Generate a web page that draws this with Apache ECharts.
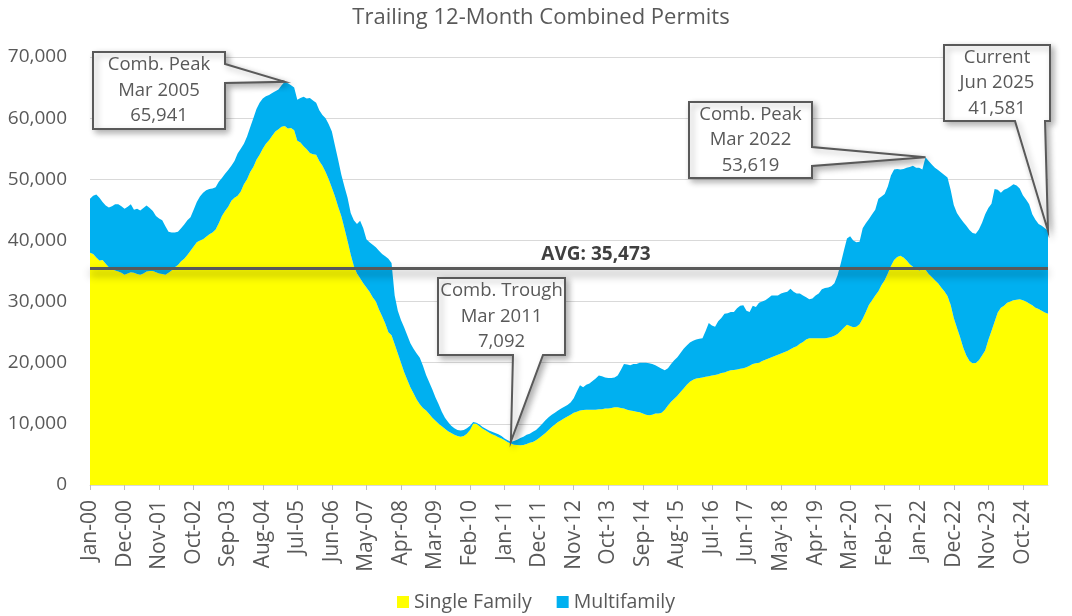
<!DOCTYPE html>
<html>
<head>
<meta charset="utf-8">
<title>Trailing 12-Month Combined Permits</title>
<script src="https://cdn.jsdelivr.net/npm/echarts@6/dist/echarts.min.js"></script>
<style>
  html, body { margin: 0; padding: 0; background: #fff; }
  #chart { width: 1072px; height: 616px; }
</style>
</head>
<body>
<div id="chart"></div>
<script>
// trailing 12-month permits, Jan-2000 .. Jun-2025, one row per year
const singleFamily = [
  38000, 37800, 37200, 36700, 36800, 36200, 35600, 35300, 35100, 34900, 34700, 34400,
  34600, 34800, 34700, 34500, 34400, 34600, 34900, 35000, 35000, 34800, 34600, 34500,
  34400, 34700, 35100, 35600, 36000, 36600, 37000, 37600, 38300, 39000, 39700, 40000,
  40200, 40600, 41000, 41300, 41800, 42800, 44000, 44800, 45500, 46500, 47000, 47300,
  48000, 49200, 50000, 51200, 52000, 53200, 54000, 55000, 55800, 56400, 57100, 57800,
  58200, 58600, 58700, 58300, 58400, 58000, 56300, 56000, 55400, 54900, 54300, 54100,
  54000, 53000, 52200, 51200, 50000, 48600, 47200, 45500, 44000, 42000, 39900, 37700,
  35800, 34600, 33800, 33000, 32300, 31600, 30700, 30000, 28700, 27600, 26400, 25000,
  24500, 23000, 21500, 20000, 18500, 17200, 16000, 15000, 14000, 13200, 12600, 12200,
  11600, 11000, 10500, 10000, 9600, 9200, 8800, 8500, 8200, 8000, 7900, 8000,
  8400, 9000, 10000, 10000, 9600, 9200, 8900, 8600, 8300, 8100, 7800, 7600,
  7300, 7000, 6800, 6600, 6550, 6500, 6550, 6700, 6900, 7050, 7300, 7700,
  8100, 8500, 9000, 9500, 9900, 10300, 10600, 10900, 11200, 11500, 11800, 12000,
  12200, 12250, 12300, 12300, 12300, 12300, 12400, 12400, 12500, 12500, 12600, 12700,
  12700, 12600, 12500, 12300, 12200, 12100, 12000, 11900, 11700, 11500, 11400, 11500,
  11700, 11700, 11800, 12300, 13000, 13600, 14100, 14600, 15200, 15800, 16400, 16900,
  17200, 17400, 17500, 17600, 17700, 17800, 17900, 18000, 18100, 18300, 18400, 18600,
  18750, 18800, 18900, 19000, 19100, 19250, 19500, 19800, 19900, 20000, 20300, 20500,
  20700, 20900, 21100, 21300, 21500, 21700, 21900, 22200, 22500, 22700, 23100, 23400,
  23800, 24000, 24000, 24000, 24000, 24000, 24000, 24100, 24200, 24400, 24700, 25200,
  25700, 26200, 26000, 25800, 25900, 26300, 27200, 28300, 29500, 30200, 31000, 31700,
  32700, 33500, 34600, 35800, 36800, 37300, 37500, 37200, 36700, 36100, 35700, 35400,
  35100, 35300, 35200, 34500, 34000, 33500, 33000, 32300, 31700, 30900, 29500, 27300,
  25700, 24200, 22500, 21200, 20300, 19900, 19950, 20400, 21200, 22000, 23700, 25200,
  26700, 28200, 29000, 29300, 29800, 30000, 30200, 30300, 30400, 30200, 30000, 29700,
  29400, 29000, 28800, 28500, 28200, 28000
];

const multifamily = [
  8800, 9500, 10300, 10300, 9500, 9500, 9800, 10300, 10800, 11000, 10900, 10800,
  10900, 11100, 10300, 10700, 10500, 10700, 10800, 10300, 9800, 9200, 9000, 8800,
  7900, 6700, 6200, 5700, 5400, 5400, 5600, 5700, 5500, 6000, 6600, 7200,
  7600, 7600, 7400, 7200, 6900, 6800, 6200, 6100, 6000, 5700, 6000, 6900,
  7000, 6600, 7000, 7300, 8000, 8300, 8500, 8200, 7800, 7400, 7000, 6600,
  6500, 6800, 7241, 7400, 7000, 7000, 6700, 7300, 8100, 8300, 9000, 8800,
  8500, 8300, 8300, 8800, 9000, 9200, 8300, 7700, 6800, 6800, 7100, 6800,
  7500, 8100, 9400, 9000, 7900, 8100, 8600, 8900, 9600, 10200, 11000, 12000,
  11800, 8000, 7000, 7000, 7300, 7300, 7200, 7300, 7500, 7600, 6900, 5800,
  5200, 4600, 3800, 3200, 2400, 1800, 1500, 1200, 1100, 1000, 1000, 1000,
  900, 700, 300, 200, 300, 300, 300, 300, 400, 400, 500, 400,
  300, 300, 292, 600, 850, 1200, 1350, 1500, 1500, 1650, 1700, 1800,
  1900, 2100, 2100, 2000, 1900, 1900, 1900, 1900, 1900, 2000, 2400, 3300,
  4100, 3750, 4100, 4300, 4700, 5100, 5500, 5400, 5100, 5000, 4900, 4900,
  5200, 6200, 7300, 7400, 7400, 7700, 7800, 8100, 8300, 8500, 8500, 8300,
  7900, 7600, 7200, 6450, 6100, 6200, 6300, 6300, 6400, 6500, 6400, 6400,
  6400, 6400, 6400, 6400, 7500, 8700, 8200, 7900, 8700, 9000, 9600, 9500,
  9550, 9500, 10000, 10300, 10300, 9250, 8800, 9500, 9200, 9800, 9700, 9700,
  9900, 10100, 9900, 9700, 9800, 9800, 9700, 9900, 9100, 8600, 8200, 7600,
  6900, 6400, 6500, 7000, 7300, 8000, 8200, 8200, 8300, 8600, 9600, 11000,
  12600, 14100, 14700, 14200, 13800, 13500, 14800, 14500, 14000, 14100, 14000, 15100,
  14500, 14100, 14200, 14800, 14800, 14400, 14100, 14500, 15200, 15900, 16500, 16500,
  16800, 16300, 18419, 18500, 18400, 18400, 18500, 18800, 19000, 19400, 18800, 18500,
  18800, 19500, 20500, 21200, 21400, 21300, 21150, 21400, 21700, 22300, 21600, 20800,
  21700, 20100, 18800, 19000, 18700, 18800, 19000, 18700, 18100, 17200, 16700, 16200,
  14900, 14400, 13900, 13900, 13800, 13581
];

const monthNames = ['Jan', 'Feb', 'Mar', 'Apr', 'May', 'Jun', 'Jul', 'Aug', 'Sep', 'Oct', 'Nov', 'Dec'];
const categories = [];
for (let y = 2000; y <= 2025; y++) {
  for (let m = 0; m < 12; m++) {
    if (y === 2025 && m > 5) break;
    categories.push(monthNames[m] + '-' + String(y).slice(2));
  }
}

const avgValue = 35473;

// callout boxes: index of the month pointed at, text, box [x, y, w, h], wedge side + span
const callouts = [
  { idx: 62, lines: ['Comb. Peak', 'Mar 2005', '65,941'], box: [93, 52, 132, 77], wedge: ['right', 64, 83] },
  { idx: 134, lines: ['Comb. Trough', 'Mar 2011', '7,092'], box: [438, 278, 127, 77], wedge: ['bottom', 513, 543] },
  { idx: 266, lines: ['Comb. Peak', 'Mar 2022', '53,619'], box: [689, 102, 123, 76], wedge: ['right', 147, 166] },
  { idx: 305, lines: ['Current', 'Jun 2025', '41,581'], box: [944, 45, 106, 76], wedge: ['bottom', 1015, 1045] }
];

const FONT = '"Open Sans", "Noto Sans", sans-serif';
const GREY = '#595959';

const chart = echarts.init(document.getElementById('chart'));

chart.setOption({
  animation: false,
  backgroundColor: '#fff',
  title: {
    text: 'Trailing 12-Month Combined Permits',
    left: 536,
    textAlign: 'center',
    top: 2,
    textStyle: { fontFamily: FONT, fontSize: 22, fontWeight: 'normal', color: GREY }
  },
  legend: {
    top: 587,
    left: 'center',
    icon: 'rect',
    itemWidth: 12,
    itemHeight: 12,
    itemGap: 25,
    textStyle: { fontFamily: FONT, fontSize: 19.5, color: GREY },
    data: ['Single Family', 'Multifamily']
  },
  grid: { left: 90, right: 24, top: 57, bottom: 131 },
  xAxis: {
    type: 'category',
    data: categories,
    boundaryGap: false,
    axisLine: { lineStyle: { color: '#D9D9D9', width: 1 } },
    axisTick: { show: true, interval: 10, length: 5, lineStyle: { color: '#BFBFBF' } },
    axisLabel: {
      interval: 10,
      rotate: 90,
      margin: 15,
      fontFamily: FONT,
      fontSize: 21,
      color: GREY
    },
    splitLine: { show: false }
  },
  yAxis: {
    type: 'value',
    min: 0,
    max: 70000,
    interval: 10000,
    axisLine: { show: false },
    axisTick: { show: false },
    axisLabel: {
      margin: 23,
      fontFamily: FONT,
      fontSize: 19,
      color: GREY,
      formatter: (v) => v.toLocaleString('en-US')
    },
    splitLine: { lineStyle: { color: '#D9D9D9', width: 1 } }
  },
  series: [
    {
      name: 'Single Family',
      type: 'line',
      stack: 'permits',
      data: singleFamily,
      symbol: 'none',
      lineStyle: { width: 0 },
      itemStyle: { color: '#FFFF00' },
      areaStyle: { color: '#FFFF00', opacity: 1 }
    },
    {
      name: 'Multifamily',
      type: 'line',
      stack: 'permits',
      data: multifamily,
      symbol: 'none',
      lineStyle: { width: 0 },
      itemStyle: { color: '#00B0F0' },
      areaStyle: { color: '#00B0F0', opacity: 1 },
      markLine: {
        silent: true,
        symbol: 'none',
        label: { show: false },
        lineStyle: {
          color: GREY,
          width: 3,
          type: 'solid',
          shadowBlur: 8,
          shadowColor: 'rgba(0,0,0,0.45)',
          shadowOffsetY: 5
        },
        data: [{ yAxis: avgValue }]
      }
    }
  ]
});

// annotations anchored to the data through the axes
const graphics = [];
const avgY = chart.convertToPixel({ yAxisIndex: 0 }, avgValue);
graphics.push({
  type: 'text',
  x: 596,
  y: avgY - 14,
  z: 100,
  style: {
    text: 'AVG: ' + avgValue.toLocaleString('en-US'),
    font: 'bold 19px ' + FONT,
    fill: '#404040',
    align: 'center',
    verticalAlign: 'middle'
  }
});

callouts.forEach((c) => {
  const total = singleFamily[c.idx] + multifamily[c.idx];
  const tip = chart.convertToPixel({ xAxisIndex: 0, yAxisIndex: 0 }, [c.idx, total]);
  const [bx, by, bw, bh] = c.box;
  const [side, a, b] = c.wedge;
  let pts;
  if (side === 'right') {
    pts = [[bx, by], [bx + bw, by], [bx + bw, a], tip, [bx + bw, b], [bx + bw, by + bh], [bx, by + bh]];
  } else {
    pts = [[bx, by], [bx + bw, by], [bx + bw, by + bh], [b, by + bh], tip, [a, by + bh], [bx, by + bh]];
  }
  graphics.push({
    type: 'polygon',
    z: 100,
    shape: { points: pts },
    style: {
      fill: '#fff',
      stroke: GREY,
      lineWidth: 2,
      shadowBlur: 6,
      shadowOffsetX: 3,
      shadowOffsetY: 3,
      shadowColor: 'rgba(0,0,0,0.3)'
    }
  });
  graphics.push({
    type: 'text',
    z: 101,
    x: bx + bw / 2,
    y: by + bh / 2,
    style: {
      text: c.lines.join('\n'),
      font: '18.5px ' + FONT,
      lineHeight: 25.5,
      fill: GREY,
      align: 'center',
      verticalAlign: 'middle'
    }
  });
});

chart.setOption({ graphic: graphics });
</script>
</body>
</html>
